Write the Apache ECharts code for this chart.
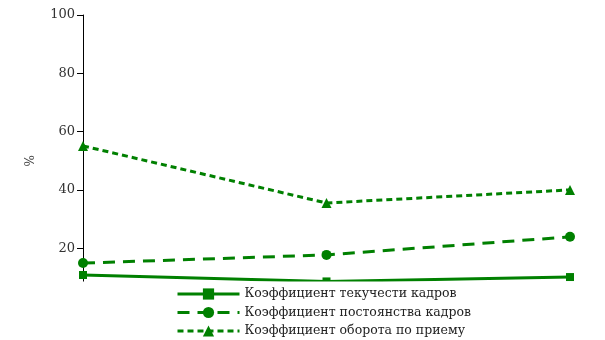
<!DOCTYPE html>
<html>
<head>
<meta charset="utf-8">
<script src="https://cdn.jsdelivr.net/npm/echarts@6/dist/echarts.min.js"></script>
<style>html,body{margin:0;padding:0;background:#fff}#main{width:605px;height:340px}</style>
</head>
<body>
<div id="main"></div>
<script>
var categories = ['1', '2', '3'];
var turnover = [10.8, 8.6, 10.1];
var stability = [14.9, 17.7, 23.9];
var hiring = [55.1, 35.5, 40.0];
var yTicks = [0, 20, 40, 60, 80, 100];

var green = '#008000';
var font = 'DejaVu Serif';

var chart = echarts.init(document.getElementById('main'));
chart.setOption({
    animation: false,
    grid: { left: 83, right: 35, top: 15, bottom: 33.5 },
    legend: {
        orient: 'vertical',
        left: 40,
        top: 281.5,
        padding: [6, 140, 0, 136],
        backgroundColor: '#fff',
        itemWidth: 62,
        itemHeight: 14,
        itemGap: 5.5,
        lineStyle: { width: 3 },
        textStyle: { fontFamily: font, fontSize: 12.5, color: '#222' },
        data: ['Коэффициент текучести кадров', 'Коэффициент постоянства кадров', 'Коэффициент оборота по приему']
    },
    xAxis: {
        type: 'category',
        data: categories,
        boundaryGap: false,
        axisLine: { show: false },
        axisTick: { show: false },
        axisLabel: { show: false }
    },
    yAxis: {
        type: 'value',
        min: yTicks[0],
        max: yTicks[yTicks.length - 1],
        interval: 20,
        name: '%',
        nameLocation: 'middle',
        nameGap: 46,
        nameTextStyle: { fontFamily: font, fontSize: 12, color: '#444' },
        axisLine: { show: true, lineStyle: { color: '#000', width: 1 } },
        axisTick: { show: true, length: 6, lineStyle: { color: '#000' } },
        axisLabel: { fontFamily: font, fontSize: 13, color: '#333', margin: 8 },
        splitLine: { show: false }
    },
    series: [
        {
            name: 'Коэффициент текучести кадров',
            type: 'line',
            data: turnover,
            symbol: 'rect',
            symbolSize: 8,
            itemStyle: { color: green },
            lineStyle: { color: green, width: 3, type: 'solid' }
        },
        {
            name: 'Коэффициент постоянства кадров',
            type: 'line',
            data: stability,
            symbol: 'circle',
            symbolSize: 10,
            itemStyle: { color: green },
            lineStyle: { color: green, width: 3, type: [12, 8] }
        },
        {
            name: 'Коэффициент оборота по приему',
            type: 'line',
            data: hiring,
            symbol: 'triangle',
            symbolSize: 10,
            itemStyle: { color: green },
            lineStyle: { color: green, width: 3, type: [6, 4] }
        }
    ]
});
</script>
</body>
</html>
